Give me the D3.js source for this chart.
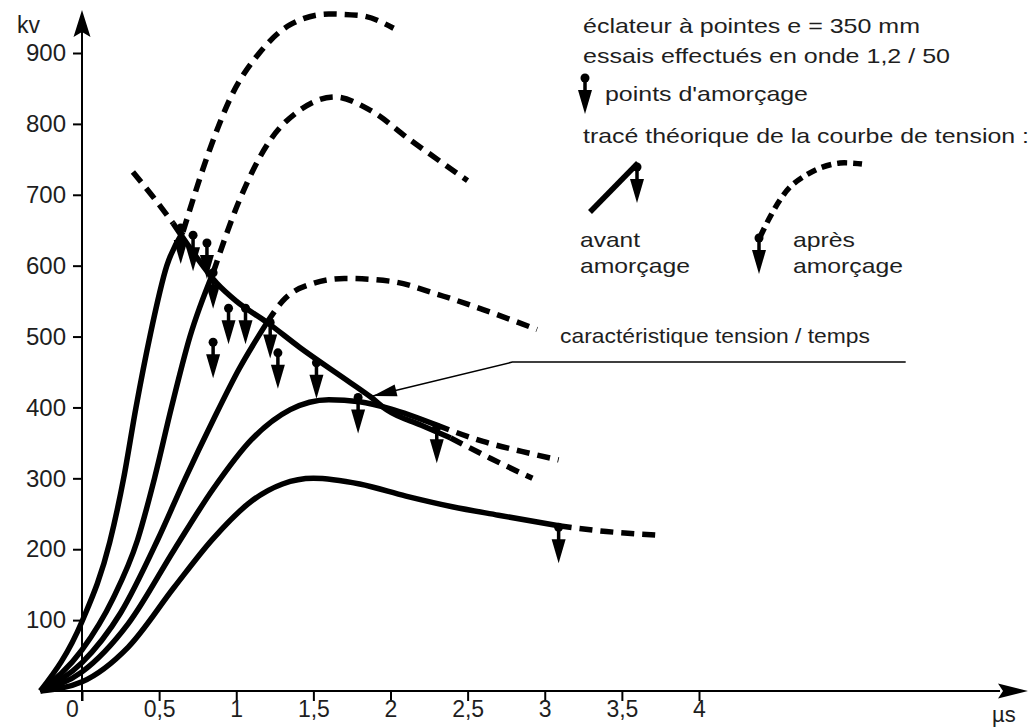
<!DOCTYPE html>
<html><head><meta charset="utf-8">
<script src="https://cdn.jsdelivr.net/npm/d3@7"></script>
<style>
body{margin:0;background:#fff;}
svg text{font-family:"Liberation Sans",Arial,sans-serif;fill:#1e1e1e;}
</style></head><body>
<svg id="c" width="1032" height="728"></svg>
<script>
// ---------- data ----------
const xTicks = [0, 0.5, 1, 1.5, 2, 2.5, 3, 3.5, 4];
const xTickLabels = ["0", "0,5", "1", "1,5", "2", "2,5", "3", "3,5", "4"];
const yTicks = [100, 200, 300, 400, 500, 600, 700, 800, 900];
const yTickLabels = ["100", "200", "300", "400", "500", "600", "700", "800", "900"];

// voltage curves before breakdown (solid) [t µs, kV]
const wave1Before = [[-0.27,0],[0,98],[0.18,210],[0.27,300],[0.35,400],[0.44,500],[0.55,600],[0.655,648]];
const wave2Before = [[-0.27,0],[0,58],[0.2,130],[0.36,213],[0.47,300],[0.58,400],[0.7,500],[0.85,590]];
const wave3Before = [[-0.27,0],[0,40],[0.25,110],[0.49,213],[0.67,300],[0.85,382],[1.02,455],[1.2,520]];
const wave4Before = [[-0.27,0],[0,27],[0.3,95],[0.6,200],[0.85,285],[1.1,355],[1.35,397],[1.6,411],[1.8,408],[2.0,398],[2.3,375]];
const wave5Before = [[-0.27,0],[0,13],[0.3,62],[0.6,147],[0.85,215],[1.1,268],[1.3,292],[1.5,300],[1.8,292],[2.1,275],[2.4,260],[2.7,248],[3.09,233]];

// theoretical curves after breakdown (dashed)
const wave1After = [[0.655,648],[0.83,765],[0.97,840],[1.15,900],[1.35,940],[1.6,955],[1.8,953],[2.02,935]];
const wave2After = [[0.85,590],[1.02,692],[1.22,777],[1.41,819],[1.64,838],[1.87,819],[2.13,777],[2.5,720]];
const wave3After = [[1.2,520],[1.3,550],[1.5,575],[1.7,582],[2.0,578],[2.3,560],[2.6,538],[2.95,510]];
const wave4After = [[2.3,375],[2.6,352],[2.85,338],[3.09,326]];
const wave5After = [[3.09,233],[3.4,225],[3.73,220]];

// voltage / time characteristic
const charStart = [[0.33,732],[0.45,700],[0.59,660]];
const charMid = [[0.59,660],[0.7,625],[0.875,575],[1.0,550],[1.2,520],[1.41,485],[1.74,435],[1.87,415],[1.98,396],[2.2,375],[2.39,357]];
const charEnd = [[2.39,357],[2.65,328],[2.92,300]];

// breakdown points [t µs, kV]
const breakdowns = [[0.64,653],[0.72,643],[0.81,632],[0.85,590],[0.85,492],[0.95,540],[1.06,540],[1.22,520],[1.27,477],[1.52,463],[1.79,414],[2.3,372],[3.09,231]];

// annotation arrow (end, elbow, tip) in data units
const annotPath = [[5.34,464],[2.79,464],[1.885,416]];

// ---------- drawing ----------
const svg = d3.select("#c");
const x = d3.scaleLinear().domain([0,4]).range([82,699]);
const y = d3.scaleLinear().domain([0,900]).range([691,53]);
const line = d3.line().x(d=>x(d[0])).y(d=>y(d[1])).curve(d3.curveMonotoneX);

// axes lines
svg.append("line").attr("x1",40).attr("x2",1000).attr("y1",y(0)).attr("y2",y(0)).attr("stroke","#000").attr("stroke-width",2);
svg.append("line").attr("x1",x(0)).attr("x2",x(0)).attr("y1",701).attr("y2",20).attr("stroke","#000").attr("stroke-width",2);
svg.append("path").attr("d",`M${x(0)},10 L${x(0)+8.5},37 L${x(0)},32 L${x(0)-8.5},37 Z`).attr("fill","#000");
svg.append("path").attr("d",`M1028,${y(0)} L998,${y(0)-7.5} L1003,${y(0)} L998,${y(0)+7.5} Z`).attr("fill","#000");

const yAxis = d3.axisLeft(y).tickValues(yTicks).tickFormat((d,i)=>yTickLabels[i]).tickSize(9).tickPadding(7).tickSizeOuter(0);
const gy = svg.append("g").attr("transform",`translate(${x(0)},0)`).call(yAxis);
gy.select(".domain").remove();
gy.selectAll("line").attr("stroke","#000").attr("stroke-width",2);
gy.selectAll("text").style("font-size","24px").attr("fill","#1e1e1e");

const xAxis = d3.axisBottom(x).tickValues(xTicks).tickFormat((d,i)=>xTickLabels[i]).tickSize(10).tickPadding(0).tickSizeOuter(0);
const gx = svg.append("g").attr("transform",`translate(0,${y(0)})`).call(xAxis);
gx.select(".domain").remove();
gx.selectAll("line").attr("stroke","#000").attr("stroke-width",2);
gx.selectAll("text").style("font-size","23px").attr("fill","#1e1e1e")
  .attr("dx",(d)=> d===0 ? -10 : 0);

svg.append("text").attr("x",17).attr("y",33).style("font-size","23px").text("kv");
svg.append("text").attr("x",992).attr("y",722).style("font-size","22px").text("µs");

// curves
const solid = [wave1Before,wave2Before,wave3Before,wave4Before,wave5Before,charMid];
const dashed = [wave1After,wave2After,wave3After,wave4After,wave5After,charStart,charEnd];
svg.append("g").selectAll("path").data(solid).join("path")
  .attr("d",line).attr("fill","none").attr("stroke","#000").attr("stroke-width",5.5);
svg.append("g").selectAll("path").data(dashed).join("path")
  .attr("d",line).attr("fill","none").attr("stroke","#000").attr("stroke-width",5.5).attr("stroke-dasharray","13,8");

function arrowMark(g, px, py){
  g.append("circle").attr("cx",px).attr("cy",py).attr("r",4.5).attr("fill","#000");
  g.append("rect").attr("x",px-1.75).attr("y",py).attr("width",3.5).attr("height",16).attr("fill","#000");
  g.append("path").attr("d",`M${px-7},${py+12} L${px+7},${py+12} L${px},${py+36} Z`).attr("fill","#000");
}
const gb = svg.append("g");
breakdowns.forEach(d=>arrowMark(gb, x(d[0]), y(d[1])));

// annotation
const annot = annotPath.map(d=>[x(d[0]),y(d[1])]);
svg.append("path").attr("d",d3.line()(annot)).attr("fill","none").attr("stroke","#000").attr("stroke-width",1.5);
{
  const [a,b] = [annot[1],annot[2]];
  const dx=b[0]-a[0], dy=b[1]-a[1], L=Math.hypot(dx,dy), ux=dx/L, uy=dy/L;
  const bx=b[0]-ux*24, by=b[1]-uy*24;
  svg.append("path").attr("d",`M${b[0]},${b[1]} L${bx-uy*6},${by+ux*6} L${bx+uy*6},${by-ux*6} Z`).attr("fill","#000");
}
svg.append("text").attr("x",560).attr("y",343).style("font-size","21px").attr("textLength",310).attr("lengthAdjust","spacingAndGlyphs").text("caractéristique tension / temps");

// legend
const leg = svg.append("g");
const legText = (tx,ty,s,w)=>leg.append("text").attr("x",tx).attr("y",ty).style("font-size","21px").attr("textLength",w).attr("lengthAdjust","spacingAndGlyphs").text(s);
legText(583,33,"éclateur à pointes e = 350 mm",337);
legText(583,63,"essais effectués en onde 1,2 / 50",367);
arrowMark(leg,585,78);
legText(605,101,"points d'amorçage",203);
legText(583,143,"tracé théorique de la courbe de tension :",446);
leg.append("line").attr("x1",590).attr("y1",212).attr("x2",638).attr("y2",163).attr("stroke","#000").attr("stroke-width",5.5);
arrowMark(leg,637,167);
legText(580,247,"avant",60);
legText(580,273,"amorçage",110);
const legDash = [[760,237],[770,217],[780,200],[790,187],[803,177],[820,168],[840,163],[862,164]];
leg.append("path").attr("d",d3.line().curve(d3.curveCatmullRom)(legDash)).attr("fill","none").attr("stroke","#000").attr("stroke-width",5.5).attr("stroke-dasharray","10,6");
arrowMark(leg,759,238);
legText(793,247,"après",62);
legText(793,273,"amorçage",110);
</script>
</body></html>
